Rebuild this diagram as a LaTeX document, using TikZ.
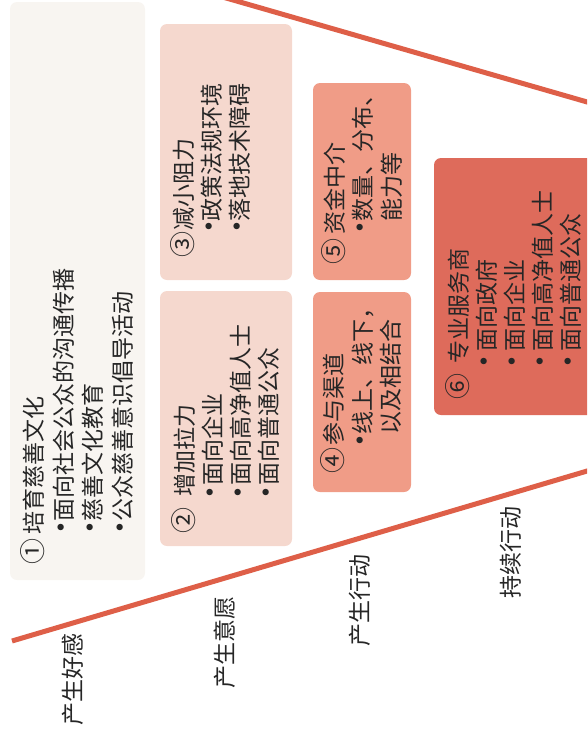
\documentclass[tikz,border=0pt]{standalone}
\usepackage{fontspec}
\newfontfamily\cjk{Noto Sans CJK SC}
\usetikzlibrary{calc}
\definecolor{cA}{HTML}{F8F5F1}
\definecolor{cB}{HTML}{F5D8CE}
\definecolor{cC}{HTML}{F09C87}
\definecolor{cD}{HTML}{DE6B5B}
\definecolor{fl}{HTML}{DE5F48}
\definecolor{tx}{HTML}{262626}
\newcommand\circnum[2]{\makebox[#2pt][l]{\fontsize{26}{28}\selectfont #1}}
\newcommand\bul[2]{\hspace*{#1pt}\makebox[#2pt][c]{\fontsize{30}{28}\selectfont •}}
\begin{document}
\begin{tikzpicture}[x=1pt,y=-1pt,
 box/.style={inner sep=0pt,outer sep=0pt,rounded corners=7pt,anchor=north west},
 txt/.style={inner sep=0pt,outer sep=0pt,anchor=north west,rotate=90,align=left,text=tx,font=\cjk\fontsize{23}{28}\selectfont},
 lab/.style={inner sep=0pt,rotate=90,text=tx,font=\cjk\fontsize{23}{28}\selectfont},
 funnel/.style={draw=fl,line width=5pt}]
\useasboundingbox (0,0) rectangle (587,731);
\clip (0,0) rectangle (587,731);
% boxes
\node[box,fill=cA,minimum width=135pt,minimum height=578pt] (b1) at (10,2) {};
\node[box,fill=cB,minimum width=132pt,minimum height=256pt] (b3) at (160,24) {};
\node[box,fill=cB,minimum width=132pt,minimum height=255pt] (b2) at (160,291) {};
\node[box,fill=cC,minimum width=98pt,minimum height=197pt] (b5) at (313,83) {};
\node[box,fill=cC,minimum width=98pt,minimum height=200pt] (b4) at (313,292) {};
\node[box,fill=cD,minimum width=160pt,minimum height=257pt] (b6) at (434,158) {};
% texts
\node[txt,font=\cjk\fontsize{23}{29.5}\selectfont] (t1) at ($(b1.south west)+(11,-16)$) {\circnum{①}{30}培育慈善文化\\
\bul{30}{13}面向社会公众的沟通传播\\
\bul{30}{13}慈善文化教育\\
\bul{30}{13}公众慈善意识倡导活动};
\node[txt] (t2) at ($(b2.south west)+(12,-13)$) {\circnum{②}{37}增加拉力\\
\bul{33}{15}面向企业\\
\bul{33}{15}面向高净值人士\\
\bul{33}{15}面向普通公众};
\node[txt] (t3) at ($(b3.south west)+(11,-23)$) {\circnum{③}{27}减小阻力\\
\bul{26}{10}政策法规环境\\
\bul{26}{10}落地技术障碍};
\node[txt] (t4) at ($(b4.south west)+(8,-19)$) {\circnum{④}{28}参与渠道\\
\bul{26}{13}线上、线下，\\
\hspace*{39pt}以及相结合};
\node[txt,font=\cjk\fontsize{23}{28.5}\selectfont] (t5) at ($(b5.south west)+(8,-16)$) {\circnum{⑤}{30}资金中介\\
\bul{31}{12}数量、分布、\\
\hspace*{43pt}能力等};
\node[txt] (t6) at ($(b6.south west)+(11,-16)$) {\circnum{⑥}{36}专业服务商\\
\bul{28}{20}面向政府\\
\bul{28}{20}面向企业\\
\bul{28}{20}面向高净值人士\\
\bul{28}{20}面向普通公众};
% stage labels
\node[lab] (l1) at (73,679) {产生好感};
\node[lab] (l2) at (225,642) {产生意愿};
\node[lab] (l3) at (360,600) {产生行动};
\node[lab] (l4) at (511,552) {持续行动};
% funnel lines
\coordinate (ft1) at (220,-3.75);
\coordinate (ft2) at (600,105.7);
\coordinate (fb1) at (12,641);
\coordinate (fb2) at (600,467.2);
\draw[funnel] (ft1) -- (ft2);
\draw[funnel] (fb1) -- (fb2);
\end{tikzpicture}
\end{document}
